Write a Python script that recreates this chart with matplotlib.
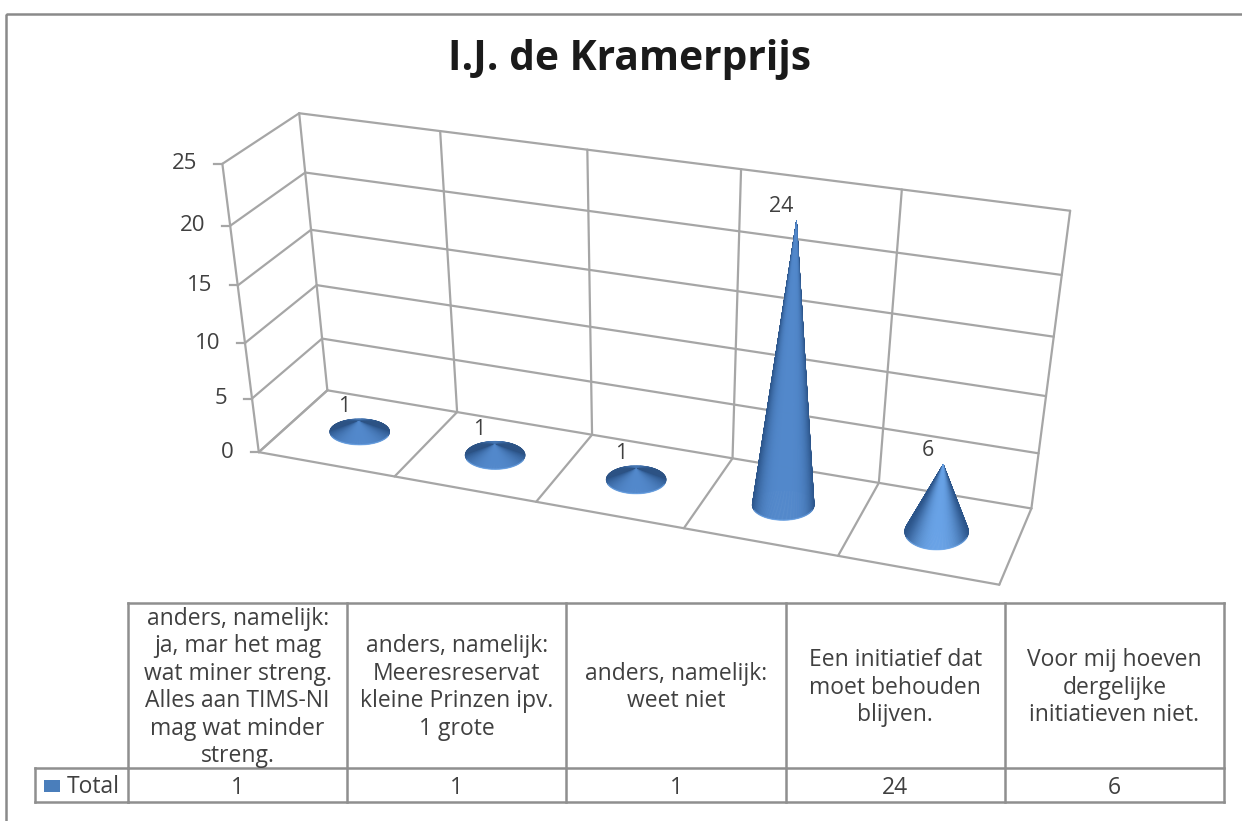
import numpy as np
import matplotlib
matplotlib.use("Agg")
import matplotlib.pyplot as plt
from matplotlib.collections import PolyCollection
from matplotlib.patches import Rectangle

# ---- data ----
title = "I.J. de Kramerprijs"
categories = [
    "anders, namelijk:\nja, mar het mag\nwat miner streng.\nAlles aan TIMS-NI\nmag wat minder\nstreng.",
    "anders, namelijk:\nMeeresreservat\nkleine Prinzen ipv.\n1 grote",
    "anders, namelijk:\nweet niet",
    "Een initiatief dat\nmoet behouden\nblijven.",
    "Voor mij hoeven\ndergelijke\ninitiatieven niet.",
]
series_name = "Total"
values = [1, 1, 1, 24, 6]
y_ticks = [0, 5, 10, 15, 20, 25]

# ---- style / layout ----
W, H = 1242, 821
FONT = ["Open Sans", "DejaVu Sans"]
GRID = "#a6a6a6"
TEXT = "#404040"
plt.rcParams["font.family"] = FONT
cone_half_w = [30, 30, 30, 31, 32]
cone_half_h = [13, 14, 14, 15, 18]

fig = plt.figure(figsize=(W / 100, H / 100), dpi=100)
ax = fig.add_axes([0, 0, 1, 1])
ax.set_xlim(0, W)
ax.set_ylim(H, 0)
ax.axis("off")

# camera calibration: world (u = category position, v = value, d = depth) -> pixel
n = len(categories)
vmax = y_ticks[-1]
world = np.array([
    [0, 0, 0], [n, 0, 0], [0, vmax, 0], [0, 0, 1], [n, 0, 1], [0, vmax, 1], [n, vmax, 1],
    [1, 0, 0], [2, 0, 0], [3, 0, 0], [4, 0, 0], [1, 0, 1], [2, 0, 1], [3, 0, 1], [4, 0, 1],
    [1, vmax, 1], [2, vmax, 1], [4, vmax, 1],
], float)
pix = np.array([
    [259, 452], [999, 585], [222, 163], [327, 390], [1032, 508], [299, 113], [1070, 210],
    [395, 477], [537, 502], [683, 528], [838, 556], [457, 412], [592, 435], [732, 458], [879, 483],
    [441, 132], [587, 150], [902, 190],
], float)
A = []
for (u, v, d), (x, y) in zip(world, pix):
    A.append([u, v, d, 1, 0, 0, 0, 0, -x * u, -x * v, -x * d, -x])
    A.append([0, 0, 0, 0, u, v, d, 1, -y * u, -y * v, -y * d, -y])
P = np.linalg.svd(np.array(A))[2][-1].reshape(3, 4)


def project(u, v, d):
    p = P @ np.array([u, v, d, 1.0])
    return p[0] / p[2], p[1] / p[2]


def seg(a, b):
    xa, ya = project(*a)
    xb, yb = project(*b)
    ax.plot([xa, xb], [ya, yb], color=GRID, lw=1.6, solid_capstyle="round", zorder=1)


# chart frame
ax.add_patch(Rectangle((6, 14), W + 20, H + 20, fc="none", ec="#8a8a8a", lw=1.8, zorder=0))

# walls, floor
for t in y_ticks:
    seg((0, t, 1), (n, t, 1))
    seg((0, t, 0), (0, t, 1))
    x, y = project(0, t, 0)
    ax.plot([x - 8, x], [y, y], color=GRID, lw=1.6, zorder=1)
    ax.text(x - 25, y, str(t), ha="right", va="center", fontsize=16, color=TEXT)
for i in range(n + 1):
    seg((i, 0, 1), (i, vmax, 1))
    seg((i, 0, 0), (i, 0, 1))
seg((0, 0, 0), (n, 0, 0))
seg((0, 0, 0), (0, vmax, 0))

# cones
LOW = np.array([0x2c, 0x55, 0x8a]) / 255
MID = np.array([0x52, 0x88, 0xcb]) / 255
HIGH = np.array([0x68, 0xa2, 0xe6]) / 255


def cone(i, val):
    cx, cy = project(i + 0.5, 0, 0.5)
    apx, apy = project(i + 0.5, val, 0.5)
    hw, hh = cone_half_w[i], cone_half_h[i]
    th = np.linspace(0, 2 * np.pi, 241)
    bx = cx + hw * np.cos(th)
    by = cy + hh * np.sin(th)       # sin > 0 is the front of the base in pixel space
    tall = val > 3
    peak = HIGH if 3 < val < 10 else MID
    polys, cols, depth = [], [], []
    for k in range(len(th) - 1):
        a = 0.5 * (th[k] + th[k + 1])
        polys.append([(bx[k], by[k]), (bx[k + 1], by[k + 1]), (apx, apy)])
        if tall:
            f = 1 - abs(np.cos(a)) ** (4 if val > 10 else 2.5)
            c = LOW + (peak - LOW) * f
        elif np.sin(a) > 0:
            f = 1 - abs(np.cos(a)) ** 2.5
            c = LOW + (peak - LOW) * f ** 0.45
        else:
            f = 1 - abs(np.cos(a)) ** 2.5
            c = LOW * 0.9 + (MID - LOW * 0.9) * (0.1 + 0.6 * f ** 6)
        cols.append(c)
        depth.append(np.sin(a))
    order = np.argsort(depth)
    pc = PolyCollection([polys[j] for j in order], facecolors=[cols[j] for j in order],
                        edgecolors=[cols[j] for j in order], linewidths=0.4, zorder=3)
    ax.add_collection(pc)
    # light rim along the front of the base
    front = np.sin(th) > 0.35
    ax.plot(bx[front], by[front], color="#6fa8ea", lw=1.0, alpha=0.6, zorder=3.5)
    top = min(apy, by.min())
    ax.text(apx - 15, top - (14 if tall else 12), str(val), ha="center", va="center",
            fontsize=15.5, color=TEXT, zorder=4)


for i, val in enumerate(values):
    cone(i, val)

# data table
T_TOP, T_MID, T_BOT = 603, 768, 802
T_X = np.linspace(128, 1224, n + 1)
T_LEFT = 35
TC = "#8f8f8f"
LINE_STEP = 27.5
TFS = 16.5
for y in (T_TOP, T_MID, T_BOT):
    ax.plot([T_X[0], T_X[-1]], [y, y], color=TC, lw=1.8, zorder=1)
for y in (T_MID, T_BOT):
    ax.plot([T_LEFT, T_X[0]], [y, y], color=TC, lw=1.8, zorder=1)
for x in T_X:
    ax.plot([x, x], [T_TOP, T_BOT], color=TC, lw=1.8, zorder=1)
ax.plot([T_LEFT, T_LEFT], [T_MID, T_BOT], color=TC, lw=1.8, zorder=1)
for i, (cat, val) in enumerate(zip(categories, values)):
    xc = 0.5 * (T_X[i] + T_X[i + 1])
    lines = cat.split("\n")
    yc = 0.5 * (T_TOP + T_MID) - 1
    for j, line in enumerate(lines):
        ax.text(xc, yc + (j - (len(lines) - 1) / 2) * LINE_STEP, line, ha="center", va="center_baseline",
                fontsize=TFS, color=TEXT)
    ax.text(xc, 0.5 * (T_MID + T_BOT) - 0.5, str(val), ha="center", va="center_baseline",
            fontsize=TFS, color=TEXT)
ax.add_patch(Rectangle((44, 780), 16, 12, fc="#4a7ebb", ec="none", zorder=2))
ax.text(67, 784, series_name, ha="left", va="center_baseline", fontsize=TFS, color=TEXT)

ax.text(629, 59, title, ha="center", va="center", fontsize=29.3, fontweight="bold", color="#1a1a1a")

fig.savefig("out.png", dpi=100)
